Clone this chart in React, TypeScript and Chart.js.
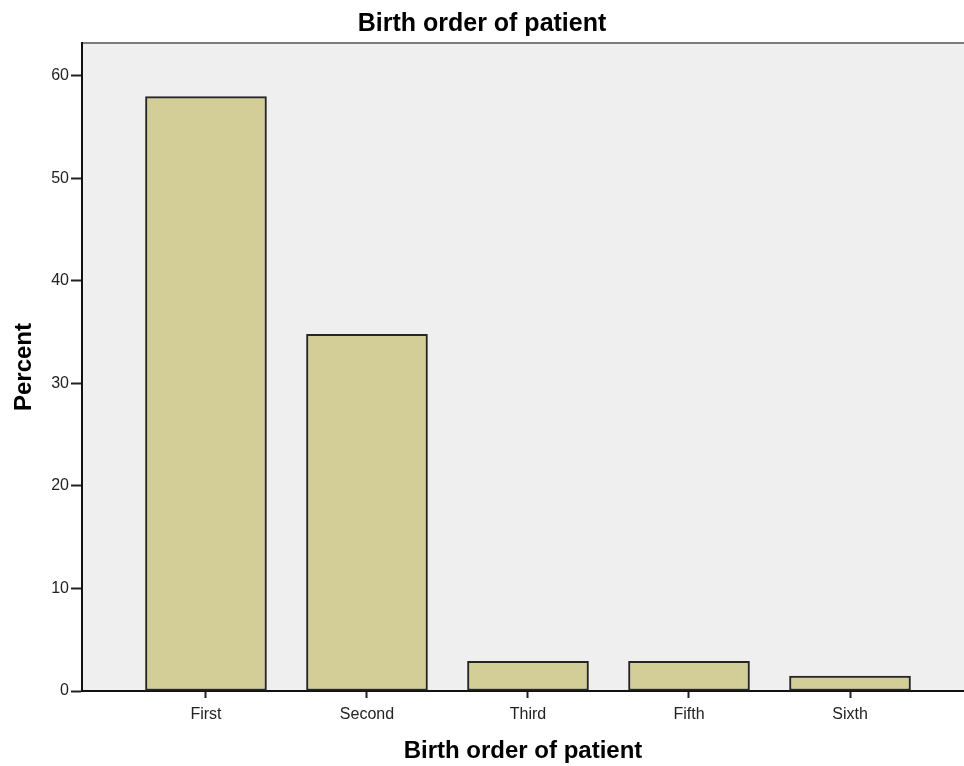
import { useEffect, useRef } from 'react';
import { Chart, registerables } from 'chart.js';

Chart.register(...registerables);

const categories: string[] = ['First', 'Second', 'Third', 'Fifth', 'Sixth'];
const percents: number[] = [57.97, 34.78, 2.9, 2.9, 1.45];
const yTickValues: number[] = [0, 10, 20, 30, 40, 50, 60];
const chartTitle = 'Birth order of patient';
const xAxisTitle = 'Birth order of patient';
const yAxisTitle = 'Percent';

const FONT = "'Liberation Sans', Arial, sans-serif";

const bgPlugin = {
  id: 'plotBg',
  beforeDraw(chart: any) {
    const { ctx, chartArea } = chart;
    const { left, top, right, bottom } = chartArea;
    ctx.save();
    ctx.fillStyle = '#EFEFEF';
    ctx.fillRect(left, top, right - left, bottom - top);
    ctx.strokeStyle = '#7C7C7C';
    ctx.lineWidth = 2;
    ctx.beginPath();
    ctx.moveTo(left, top);
    ctx.lineTo(right, top);
    ctx.stroke();
    ctx.restore();
  },
};

export default function App() {
  const canvasRef = useRef<HTMLCanvasElement | null>(null);

  useEffect(() => {
    document.body.style.margin = '0';
    const canvas = canvasRef.current;
    if (!canvas) return;
    const chart = new Chart(canvas, {
      type: 'bar',
      data: {
        datasets: [
          {
            label: yAxisTitle,
            data: percents.map((v, i) => ({ x: i, y: v })),
            backgroundColor: '#D3CE98',
            borderColor: '#262626',
            borderWidth: 2,
            borderSkipped: false,
            barThickness: 121,
          },
        ],
      },
      options: {
        responsive: false,
        animation: false,
        font: { family: FONT },
        layout: { padding: 0 },
        plugins: {
          legend: { display: false },
          tooltip: { enabled: false },
          title: {
            display: true,
            text: chartTitle,
            color: '#000',
            font: { family: FONT, size: 25, weight: 'bold' },
            padding: { top: 9, bottom: 4 },
          },
        },
        scales: {
          x: {
            type: 'linear',
            min: -0.77,
            max: 4.708,
            offset: false,
            afterBuildTicks: (scale: any) => {
              scale.ticks = categories.map((_, i) => ({ value: i }));
            },
            afterFit: (scale: any) => {
              scale.height = 75;
            },
            ticks: {
              autoSkip: false,
              maxRotation: 0,
              padding: 7,
              color: '#222',
              font: { family: FONT, size: 16 },
              callback: (v: any) => categories[Math.round(Number(v))] ?? '',
            },
            grid: {
              offset: false,
              drawOnChartArea: false,
              tickLength: 7,
              tickColor: '#222',
              tickWidth: 2,
            },
            border: { display: true, color: '#111', width: 2 },
            title: {
              display: true,
              text: xAxisTitle,
              color: '#000',
              font: { family: FONT, size: 24, weight: 'bold' },
              padding: { top: 0, bottom: 0 },
            },
          },
          y: {
            type: 'linear',
            min: 0,
            max: 63.2,
            afterBuildTicks: (scale: any) => {
              scale.ticks = yTickValues.map((v) => ({ value: v }));
            },
            afterFit: (scale: any) => {
              scale.width = 82;
            },
            ticks: {
              padding: 2,
              color: '#222',
              font: { family: FONT, size: 16 },
            },
            grid: {
              drawOnChartArea: false,
              tickLength: 11,
              tickColor: '#222',
              tickWidth: 2,
            },
            border: { display: true, color: '#111', width: 2 },
            title: {
              display: true,
              text: yAxisTitle,
              color: '#000',
              font: { family: FONT, size: 24, weight: 'bold' },
              padding: { top: 10, bottom: 0 },
            },
          },
        },
      } as any,
      plugins: [bgPlugin],
    });
    return () => chart.destroy();
  }, []);

  return (
    <div style={{ width: 964, height: 766, background: '#fff' }}>
      <canvas ref={canvasRef} width={964} height={766} style={{ display: 'block' }} />
    </div>
  );
}
